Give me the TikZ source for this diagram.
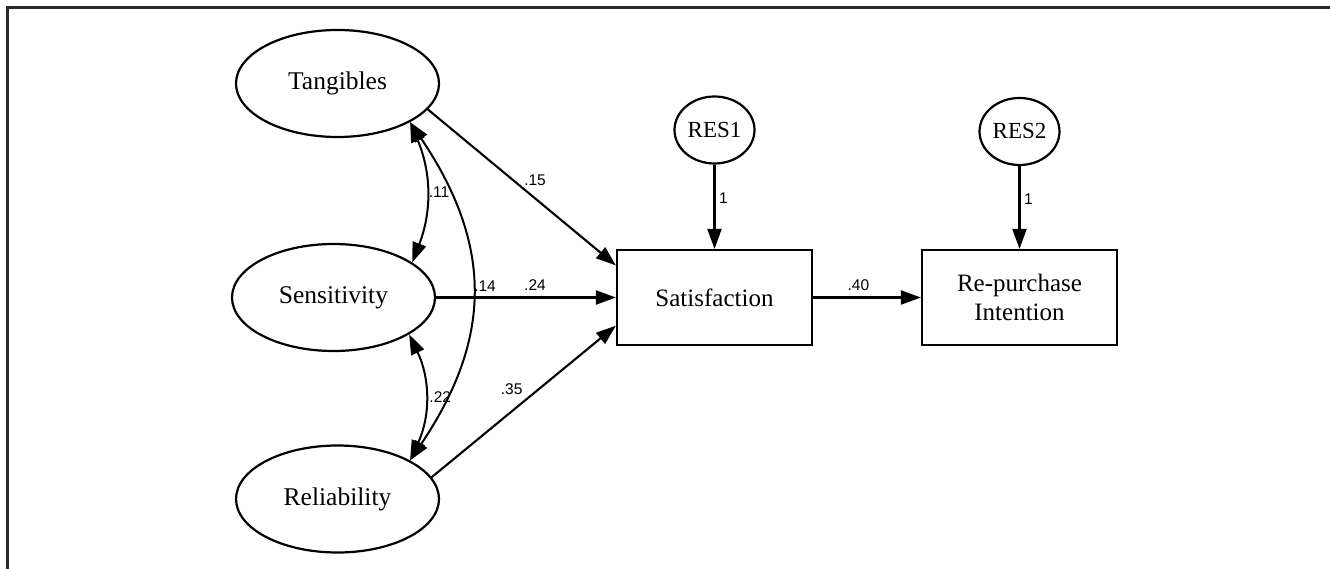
\documentclass[tikz,border=0pt]{standalone}
\usepackage{fontspec}
\setmainfont{Liberation Serif}
\newfontfamily\labfont{Liberation Sans}
\usetikzlibrary{shapes.geometric,arrows.meta,calc}
\definecolor{framegray}{HTML}{2A2A2A}
\tikzset{
  latent/.style={ellipse, draw, line width=2.2pt, inner sep=0pt,
    minimum width=203pt, minimum height=107pt, font=\fontsize{25.5}{30}\selectfont},
  resid/.style={ellipse, draw, line width=2.2pt, inner sep=0pt,
    minimum width=80pt, minimum height=67pt, font=\fontsize{23}{28}\selectfont},
  obsbox/.style={rectangle, draw, line width=2.2pt, inner sep=0pt,
    minimum width=195pt, minimum height=95pt, align=center,
    font=\fontsize{25}{29}\selectfont},
  conn/.style={line width=2.1pt, -{Triangle[length=20pt,width=14pt]}},
  covar/.style={line width=2pt, {Triangle[length=20pt,width=14pt]}-{Triangle[length=20pt,width=14pt]}},
  lab/.style={font=\labfont\fontsize{15.5}{17}\selectfont, inner sep=0pt},
  frameline/.style={draw=framegray, line width=3pt}
}
\begin{document}
\begin{tikzpicture}[x=1pt,y=-1pt]
\useasboundingbox (0,0) rectangle (1330,569);
\coordinate (ftop) at (1330,8);
\coordinate (fcorner) at (7,8);
\coordinate (fbot) at (7,569);
\draw[frameline] (ftop) -- (fcorner) -- (fbot);

\node[latent] (T) at (337.5,83.5) {Tangibles};
\node[latent] (S) at (333.5,297.5) {Sensitivity};
\node[latent] (R) at (337.5,499) {Reliability};
\node[obsbox] (Sat) at (714.5,297.5) {Satisfaction};
\node[obsbox] (Rep) at (1019.5,297.5) {Re-purchase\\Intention};
\node[resid] (E1) at (714.5,130) {RES1};
\node[resid] (E2) at (1019.5,131.5) {RES2};

% structural paths
\draw[conn] (T.-16) -- ($(Sat.north west)!0.17!(Sat.south west)$)
  node[lab, pos=0.57, yshift=18pt] (l15) {.15};
\draw[conn] (S.east) -- (Sat.west)
  node[lab, pos=0.55, yshift=12.5pt] (l24) {.24};
\draw[conn] (R.13) -- ($(Sat.north west)!0.79!(Sat.south west)$)
  node[lab, pos=0.434, yshift=22pt] (l35) {.35};
\draw[conn] (Sat.east) -- (Rep.west)
  node[lab, pos=0.42, yshift=12.5pt] (l40) {.40};
\draw[conn] (E1.south) -- (Sat.north)
  node[lab, pos=0.4, xshift=9pt] (l1a) {1};
\draw[conn] (E2.south) -- (Rep.north)
  node[lab, pos=0.4, xshift=9pt] (l1b) {1};

% covariances
\draw[covar] (T.-28) to[bend left=22] node[lab, pos=0.5, xshift=12.5pt] (l11) {.11} (S.24);
\draw[covar] (S.-26) to[bend left=25] node[lab, pos=0.5, xshift=15pt] (l22) {.22} (R.28);
\draw[covar] (T.-28) to[bend left=34, looseness=1.12] node[lab, pos=0.5, xshift=13pt, yshift=5pt] (l14) {.14} (R.28);
\end{tikzpicture}
\end{document}
